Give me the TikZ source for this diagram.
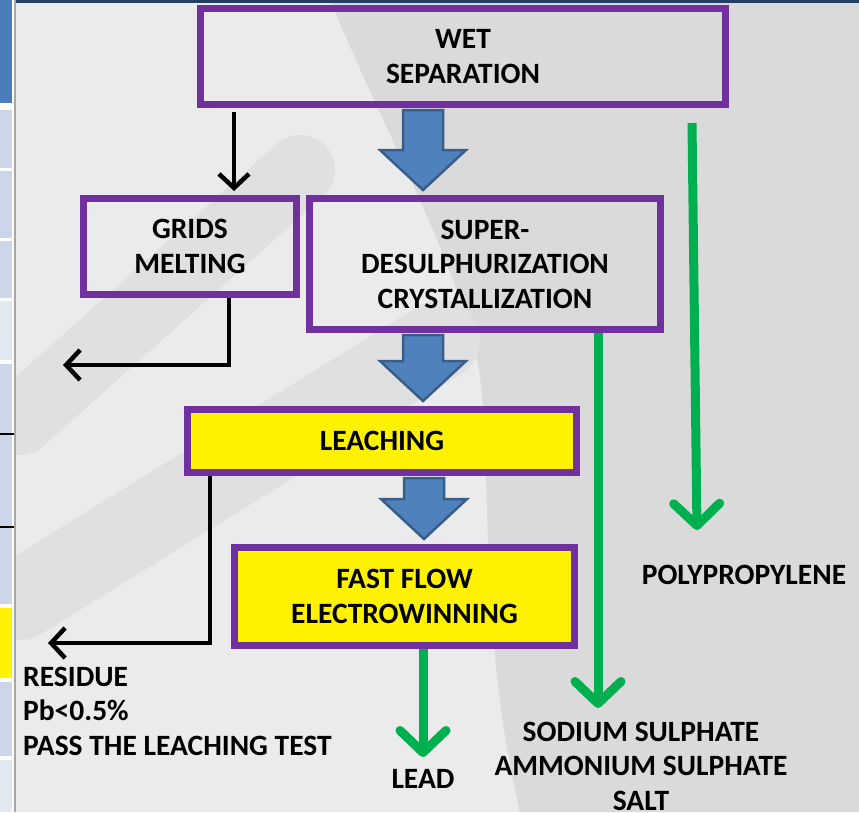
\documentclass[tikz,border=0pt]{standalone}
\usepackage{fontspec}
\setmainfont{Carlito}
\usetikzlibrary{arrows.meta,calc}

\definecolor{boxpurple}{HTML}{7030A0}
\definecolor{flowblue}{HTML}{4F81BD}
\definecolor{flowedge}{HTML}{385D8A}
\definecolor{outgreen}{HTML}{00B050}
\definecolor{pagegray}{HTML}{EBEBEB}
\definecolor{shadegray}{HTML}{DADADA}
\definecolor{softgray}{HTML}{E0E0E0}
\definecolor{tabblue}{HTML}{CDD5E8}
\definecolor{tablight}{HTML}{E3E8F1}
\definecolor{tabdark}{HTML}{4A7EBB}
\definecolor{topnavy}{HTML}{243F66}

\tikzset{
  stage/.style={draw=boxpurple, line width=7pt, align=center, inner sep=0pt,
    font=\bfseries\fontsize{29.5}{34.5}\selectfont},
  hot/.style={stage, fill=yellow},
  outtext/.style={align=center, inner sep=0pt, font=\bfseries\fontsize{29.5}{34.5}\selectfont},
  bigarrow/.style={fill=flowblue, draw=flowedge, line width=2.5pt, line join=miter},
  waste/.style={draw=black, line width=4.5pt, -{Straight Barb[length=14pt,width=30pt]}},
  product/.style={draw=outgreen, line width=9pt, -{Straight Barb[length=22pt,width=46pt,round]}},
}

% wide blue arrow from one stage down to the next, #1 = x position
\newcommand{\stagearrow}[3]{%
  \draw[bigarrow] let \p1=(#1,0 |- #2.south), \p2=(#1,0 |- #3.north) in
    (\x1-20pt,\y1-2pt) -- (\x1+20pt,\y1-2pt) -- (\x1+20pt,\y2+45pt)
    -- (\x1+43pt,\y2+45pt) -- (\x1,\y2+5pt) -- (\x1-43pt,\y2+45pt)
    -- (\x1-20pt,\y2+45pt) -- cycle;}

\begin{document}
\begin{tikzpicture}[x=1pt,y=-1pt]
  \useasboundingbox (0,0) rectangle (859,812);

  % slide background
  \fill[pagegray] (0,0) rectangle (859,812);
  \fill[shadegray] (330,0) -- (859,0) -- (859,812) -- (520,812)
    .. controls (470,600) and (500,420) .. (470,330)
    .. controls (440,230) and (380,120) .. (330,0);
  \draw[softgray, line width=70pt, line cap=round] (20,420) -- (300,170);
  \draw[softgray, line width=80pt, line cap=round] (20,600) -- (440,340);
  \fill[topnavy] (16,0) rectangle (859,3);

  % tab strip on the left
  \fill[white] (0,0) rectangle (14,812);
  \fill[tabdark] (0,0) rectangle (12,103);
  \fill[tabblue] (0,110) rectangle (12,168);
  \fill[tabblue] (0,171) rectangle (12,238);
  \fill[tabblue] (0,241) rectangle (12,298);
  \fill[tablight] (0,301) rectangle (12,360);
  \fill[tabblue] (0,364) rectangle (12,604);
  \fill[yellow] (0,608) rectangle (12,678);
  \fill[tabblue] (0,682) rectangle (12,756);
  \fill[tablight] (0,760) rectangle (12,812);
  \draw[black, line width=2pt] (0,434) -- (14,434) (0,527) -- (14,527);
  \draw[gray!70, line width=1.5pt] (15,0) -- (15,812);

  % process stages
  \node[stage, minimum width=525pt, minimum height=96pt] (wet) at (463,56.5) {WET\\SEPARATION};
  \node[stage, minimum width=213pt, minimum height=96pt] (grids) at (190,246.5) {GRIDS\\MELTING};
  \node[stage, minimum width=351pt, minimum height=131pt] (super) at (485,264) {SUPER-\\DESULPHURIZATION\\CRYSTALLIZATION};
  \node[hot, minimum width=389pt, minimum height=63pt] (leach) at (382,441) {LEACHING};
  \node[hot, minimum width=340pt, minimum height=98pt] (fast) at (404.5,596.5) {FAST FLOW\\ELECTROWINNING};

  % outputs
  \node[outtext] (poly) at (744,575) {POLYPROPYLENE};
  \node[outtext] (salt) at (641,766) {SODIUM SULPHATE\\AMMONIUM SULPHATE\\SALT};
  \node[outtext] (lead) at (423,779) {LEAD};
  \node[outtext, anchor=west, align=left] (residue) at (23,711) {RESIDUE\\Pb<0.5\%\\PASS THE LEACHING TEST};

  \coordinate (gridsout) at (63,365);
  \coordinate (leachout) at (48,643);
  \coordinate (ppstart) at (692,123);
  \coordinate (pptip) at (697,530);
  \coordinate (salttip) at (598,708);
  \coordinate (leadtip) at (423,757);

  % main route
  \stagearrow{423}{wet}{super}
  \stagearrow{423}{super}{leach}
  \stagearrow{424}{leach}{fast}

  % side streams
  \draw[waste, shorten <=3.5pt, shorten >=4pt] (234,0 |- wet.south) -- (234,0 |- grids.north);
  \draw[waste] (229,0 |- grids.south) |- (gridsout);
  \draw[waste] (210,0 |- leach.south) |- (leachout);

  \draw[product] (ppstart) -- (pptip);
  \draw[product] (598,0 |- super.south) -- (salttip);
  \draw[product] (423,0 |- fast.south) -- (leadtip);
\end{tikzpicture}
\end{document}
